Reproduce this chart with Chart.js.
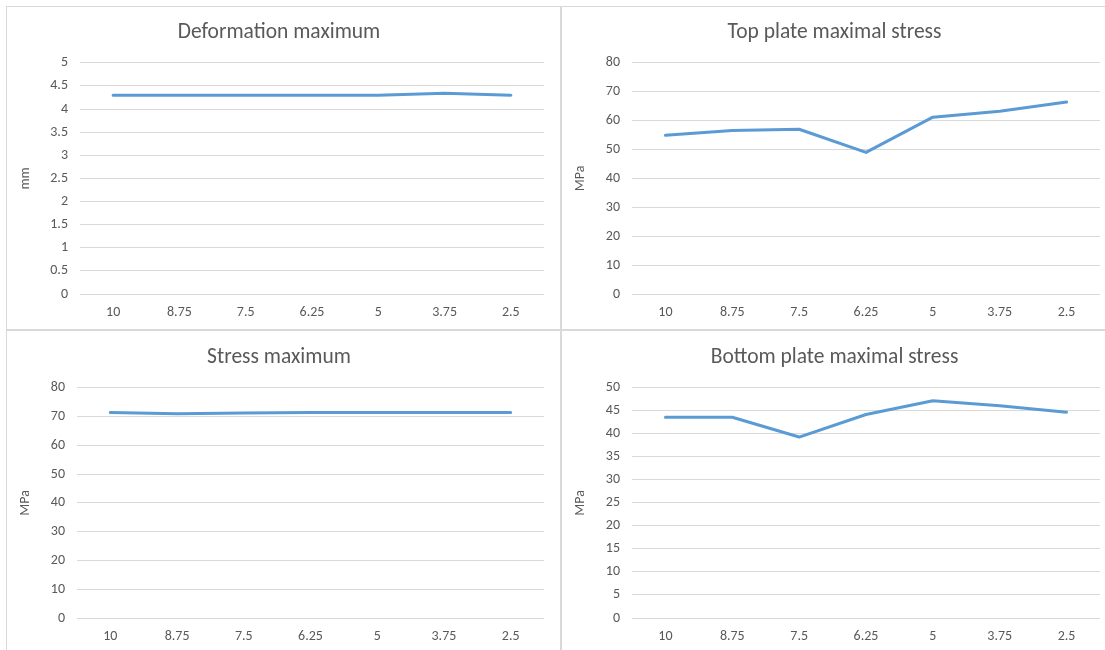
<!DOCTYPE html>
<html>
<head>
<meta charset="utf-8">
<script src="https://cdn.jsdelivr.net/npm/chart.js@4"></script>
<style>
  body { margin: 0; background: #fff; }
  #page { position: relative; width: 1105px; height: 650px; overflow: hidden; }
  .panel { position: absolute; }
  .line { position: absolute; background: #d9d9d9; }
</style>
</head>
<body>
<div id="page">
  <div class="line" style="left:6px;top:6px;width:1px;height:644px"></div>
  <div class="line" style="left:6px;top:6px;width:1099px;height:1px"></div>
  <div class="line" style="left:560px;top:6px;width:2px;height:644px"></div>
  <div class="line" style="left:6px;top:329px;width:1099px;height:2px"></div>

  <div class="panel" style="left:7px;top:7px;width:553px;height:322px"><canvas id="c1"></canvas></div>
  <div class="panel" style="left:562px;top:7px;width:543px;height:322px"><canvas id="c2"></canvas></div>
  <div class="panel" style="left:7px;top:331px;width:553px;height:319px"><canvas id="c3"></canvas></div>
  <div class="panel" style="left:562px;top:331px;width:543px;height:319px"><canvas id="c4"></canvas></div>
</div>
<script>
// data
const categories = ['10', '8.75', '7.5', '6.25', '5', '3.75', '2.5'];
const deformation = [4.3, 4.3, 4.3, 4.3, 4.3, 4.34, 4.3];
const topPlate = [54.9, 56.6, 57.0, 49.0, 61.2, 63.2, 66.4];
const stressMax = [71.4, 71.0, 71.2, 71.4, 71.4, 71.4, 71.4];
const bottomPlate = [43.6, 43.6, 39.3, 44.2, 47.2, 46.1, 44.7];

const txt = '#595959';
const font = "Calibri, Carlito, Lato, sans-serif";

function makeChart(id, title, unit, values, yMax, yStep, axisW, padR, titleTop, titleBottom, padBottom) {
    new Chart(document.getElementById(id), {
        type: 'line',
        data: {
            labels: categories,
            datasets: [{
                data: values,
                borderColor: '#5b9bd5',
                borderWidth: 3,
                borderCapStyle: 'round',
                borderJoinStyle: 'round',
                pointRadius: 0,
                tension: 0,
                fill: false
            }]
        },
        options: {
            responsive: true,
            maintainAspectRatio: false,
            animation: false,
            layout: { padding: { left: 7, right: padR, top: 0, bottom: padBottom } },
            plugins: {
                legend: { display: false },
                tooltip: { enabled: false },
                title: {
                    display: true,
                    text: title,
                    color: txt,
                    font: { family: font, size: 21.5, weight: 'normal' },
                    padding: { top: titleTop, bottom: titleBottom }
                }
            },
            scales: {
                x: {
                    offset: true,
                    grid: { display: false, drawTicks: false },
                    border: { display: false },
                    ticks: { color: txt, font: { family: font, size: 14 }, padding: 10, maxRotation: 0 },
                    afterFit: (s) => { s.height = 26; }
                },
                y: {
                    min: 0,
                    max: yMax,
                    grid: { color: '#d9d9d9', drawTicks: false },
                    border: { display: false },
                    ticks: {
                        stepSize: yStep, color: txt, font: { family: font, size: 14 }, padding: 12,
                        callback: (v) => String(Math.round(v * 100) / 100)
                    },
                    title: { display: true, text: unit, color: txt, font: { family: font, size: 14 }, padding: { top: 3, bottom: 4 } },
                    afterFit: (s) => { s.width = axisW; }
                }
            }
        }
    });
}

makeChart('c1', 'Deformation maximum', 'mm', deformation, 5, 0.5, 66, 16, 13, 17, 9);
makeChart('c2', 'Top plate maximal stress', 'MPa', topPlate, 80, 10, 63, 5, 13, 17, 9);
makeChart('c3', 'Stress maximum', 'MPa', stressMax, 80, 10, 63, 16, 14, 17, 6);
makeChart('c4', 'Bottom plate maximal stress', 'MPa', bottomPlate, 50, 5, 63, 5, 14, 17, 6);
</script>
</body>
</html>
